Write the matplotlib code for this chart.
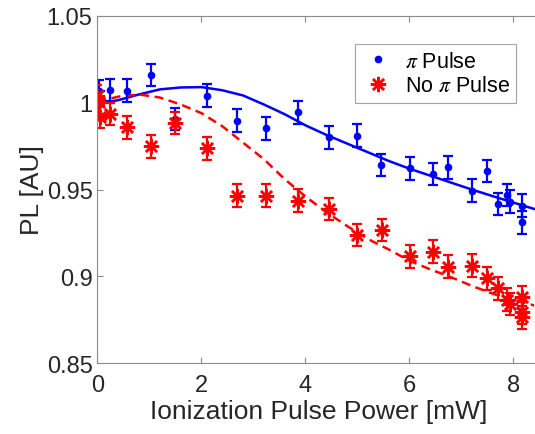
import numpy as np
import matplotlib
matplotlib.use("Agg")
import matplotlib.pyplot as plt

plt.rcParams['font.family'] = ['Liberation Sans', 'DejaVu Sans']
plt.rcParams['mathtext.fontset'] = 'stix'

# --- data ---
pi_x = [0.0, 0.02, 0.05, 0.24, 0.56, 1.03, 1.50, 2.11, 2.69, 3.25, 3.86, 4.46,
        5.0, 5.45, 6.02, 6.46, 6.75, 7.2, 7.49, 7.70, 7.875, 7.93, 8.17, 8.17]
pi_y = [1.004, 1.0065, 1.0, 1.0073, 1.007, 1.016, 0.9906, 1.0041, 0.9897, 0.9853,
        0.9945, 0.980, 0.981, 0.9641, 0.9622, 0.9589, 0.9628, 0.9493, 0.9608,
        0.9416, 0.9468, 0.943, 0.9407, 0.9311]
pi_err = [0.0065, 0.0065, 0.0065, 0.0065, 0.0065, 0.0065, 0.0065, 0.0065, 0.0065,
          0.0065, 0.0065, 0.0065, 0.0065, 0.0065, 0.0065, 0.0065, 0.0065, 0.0065,
          0.0065, 0.0065, 0.0065, 0.0065, 0.0065, 0.0065]

nopi_x = [0.0, 0.02, 0.04, 0.24, 0.56, 1.02, 1.50, 2.11, 2.69, 3.25, 3.86, 4.46,
          5.0, 5.47, 6.02, 6.46, 6.75, 7.2, 7.49, 7.70, 7.875, 7.93, 8.17, 8.17, 8.17]
nopi_y = [1.004, 1.0003, 0.992, 0.9935, 0.9858, 0.9749, 0.9883, 0.9737, 0.9464,
          0.9464, 0.9436, 0.9388, 0.9238, 0.9268, 0.9115, 0.9142, 0.9055, 0.9061,
          0.8988, 0.8930, 0.8865, 0.884, 0.8879, 0.8792, 0.8763]
nopi_err = [0.0065, 0.0065, 0.0065, 0.0065, 0.0065, 0.0065, 0.0065, 0.0065, 0.0065,
            0.0065, 0.0065, 0.0065, 0.0065, 0.0065, 0.0065, 0.0065, 0.0065, 0.0065,
            0.0065, 0.0065, 0.0065, 0.0065, 0.0065, 0.0065, 0.0065]

# fit curves
fit_x = [0.0, 0.4, 0.8, 1.2, 1.6, 2.0, 2.4, 2.8, 3.2, 3.6, 4.0, 4.4, 4.8, 5.2,
         5.6, 6.0, 6.4, 6.8, 7.2, 7.6, 8.0, 8.4]
pi_fit = [0.9993, 1.0015, 1.0048, 1.0077, 1.0088, 1.0090, 1.0072, 1.0042, 0.9990,
          0.9934, 0.9870, 0.9815, 0.9765, 0.9715, 0.9665, 0.9620, 0.9580, 0.9540,
          0.9500, 0.9462, 0.9425, 0.9388]
nopi_fit = [1.0005, 1.0035, 1.0048, 1.0030, 0.9990, 0.9940, 0.9865, 0.9770,
            0.9675, 0.9560, 0.9460, 0.9370, 0.9290, 0.9215, 0.9155, 0.9090,
            0.9040, 0.8995, 0.8945, 0.8900, 0.8865, 0.8832]

yticks = [0.85, 0.9, 0.95, 1.0, 1.05]
ytick_labels = ['0.85', '0.9', '0.95', '1', '1.05']

fig = plt.figure(figsize=(5.35, 4.35), dpi=100)
ax = fig.add_axes([0.1822, 0.163, 0.826, 0.798])

ax.plot(fit_x, pi_fit, color='blue', lw=1.8)
ax.plot(fit_x, nopi_fit, color='red', lw=1.8, dashes=(3.6, 2.2))

ax.errorbar(pi_x, pi_y, yerr=pi_err, fmt='none', ecolor='blue',
            elinewidth=1.6, capsize=3.5, capthick=1.6)
ax.errorbar(nopi_x, nopi_y, yerr=nopi_err, fmt='none', ecolor='red',
            elinewidth=1.6, capsize=3.5, capthick=1.6)
ax.plot(pi_x, pi_y, ls='none', marker='o', ms=4.5, color='blue',
        label=r'$\pi$ Pulse')
ax.plot(nopi_x, nopi_y, ls='none', marker=(8, 2, 0), ms=11, mew=1.8,
        color='red', label=r'No $\pi$ Pulse')

ax.set_xlim(0, 8.5)
ax.set_ylim(0.85, 1.05)
ax.set_xticks([0, 2, 4, 6, 8])
ax.set_yticks(yticks)
ax.set_yticklabels(ytick_labels)

for s in ax.spines.values():
    s.set_color('#8c8c8c')
    s.set_linewidth(0.8)
ax.spines['right'].set_visible(False)
ax.tick_params(direction='in', length=4, width=0.8, color='#8c8c8c',
               labelsize=17, labelcolor='#262626', top=True)
ax.tick_params(axis='x', pad=8)

ax.set_xlabel('Ionization Pulse Power [mW]', fontsize=19, color='#262626', labelpad=2)
ax.set_ylabel('PL [AU]', fontsize=19, color='#262626', labelpad=2)

leg = ax.legend(loc='upper right', bbox_to_anchor=(0.948, 0.918), fontsize=15.5,
                frameon=True, fancybox=False, edgecolor='#8c8c8c',
                handlelength=1.5, handletextpad=0.5, borderpad=0.3,
                labelspacing=0.15, borderaxespad=0)
leg.get_frame().set_linewidth(0.8)

fig.savefig('out.png', dpi=100)
